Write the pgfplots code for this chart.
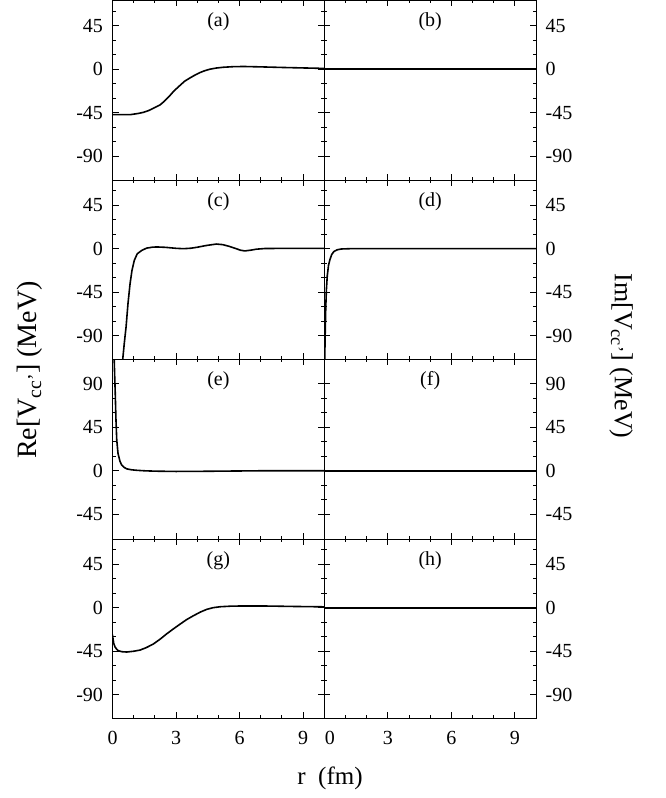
\documentclass[border=0pt]{standalone}
\usepackage{pgfplots}
\pgfplotsset{compat=1.18}
\usepackage{fontspec}
\setmainfont{Liberation Serif}

\pgfplotsset{
  panel/.style={
    scale only axis, width=211.8pt, height=179.5pt, anchor=south west,
    xmin=0, xmax=10, xtick={0,3,6,9}, minor x tick num=2,
    ytick={-90,-45,0,45,90}, minor y tick num=2,
    tick align=inside, xtick pos=both, ytick pos=both,
    major tick length=6pt, minor tick length=3pt,
    axis line style={line width=0.9pt, black},
    every tick/.style={line width=0.9pt, black},
    tick label style={font=\fontsize{20}{24}\selectfont},
    /pgf/number format/assume math mode=true,
    xticklabel style={yshift=-9pt},
    xticklabels=\empty,
    clip=true,
  },
  leftcol/.style={yticklabel pos=left, yticklabel style={xshift=-6pt}},
  rightcol/.style={yticklabel pos=right, yticklabel style={xshift=6pt}},
  lowrange/.style={ymin=-114.5, ymax=71},
  highrange/.style={ymin=-70.5, ymax=115},
  curve/.style={black, line width=1.6pt, no marks},
}
\tikzset{tag/.style={font=\fontsize{20}{24}\selectfont}}

\begin{document}
\begin{tikzpicture}
\useasboundingbox (0,0) rectangle (665pt,798pt);

% row 1: (a) (b)
\begin{axis}[panel, leftcol, lowrange, at={(112.5pt,618pt)}]
\addplot[curve] coordinates {
(0,-47) (0.4,-47) (0.83,-47) (1.2,-45.8) (1.46,-44.6) (1.7,-42.8)
(1.93,-40.4) (2.1,-38.5) (2.24,-37) (2.4,-34) (2.56,-30.5) (2.72,-27)
(2.9,-22.5) (3.05,-19.5) (3.19,-16.7) (3.4,-12.5) (3.66,-9) (3.9,-6)
(4.13,-3.5) (4.35,-1.6) (4.6,0) (4.9,1.2) (5.23,2) (5.7,2.6) (6.18,2.8)
(7,2.4) (8,1.8) (9,1.3) (10,0.8)};
\node[tag] at (rel axis cs:0.5,0.88) {(a)};
\end{axis}
\begin{axis}[panel, rightcol, lowrange, at={(324.3pt,618pt)}]
\addplot[curve] coordinates {(0,0) (10,0)};
\node[tag] at (rel axis cs:0.5,0.88) {(b)};
\end{axis}

% row 2: (c) (d)
\begin{axis}[panel, leftcol, lowrange, at={(112.5pt,438.5pt)}]
\addplot[curve] coordinates {
(0.48,-115) (0.56,-97) (0.64,-81) (0.73,-57) (0.83,-36) (0.92,-22.4)
(1.03,-12) (1.17,-5.2) (1.38,-1.8) (1.61,0.6) (1.9,1.6) (2.1,1.8)
(2.5,1.4) (3.0,0.4) (3.35,0) (3.7,0.5) (4.0,1.5) (4.4,3.2) (4.9,4.8)
(5.2,4.2) (5.5,2.5) (5.8,0.3) (6.05,-1.6) (6.25,-2.3) (6.5,-1.6)
(6.8,-0.5) (7.2,0.2) (8,0.3) (10,0.3)};
\node[tag] at (rel axis cs:0.5,0.88) {(c)};
\end{axis}
\begin{axis}[panel, rightcol, lowrange, at={(324.3pt,438.5pt)}]
\addplot[curve] coordinates {
(0.02,-115) (0.04,-90) (0.07,-60) (0.1,-42) (0.14,-28) (0.2,-17)
(0.27,-11) (0.35,-6) (0.45,-3) (0.6,-1.2) (0.8,-0.3) (1.2,0) (10,0)};
\node[tag] at (rel axis cs:0.5,0.88) {(d)};
\end{axis}

% row 3: (e) (f)
\begin{axis}[panel, leftcol, highrange, ytick={-45,0,45,90}, at={(112.5pt,259pt)}]
\addplot[curve] coordinates {
(0.08,115) (0.1,100) (0.13,80) (0.16,55) (0.2,32) (0.26,18) (0.35,10)
(0.43,6) (0.55,3.5) (0.67,2) (0.9,1) (1.14,0.5) (1.5,0) (2,-0.4)
(3,-0.7) (4,-0.6) (5,-0.4) (6,-0.2) (7,0) (10,0)};
\node[tag] at (rel axis cs:0.5,0.88) {(e)};
\end{axis}
\begin{axis}[panel, rightcol, highrange, ytick={-45,0,45,90}, at={(324.3pt,259pt)}]
\addplot[curve] coordinates {(0,0) (10,0)};
\node[tag] at (rel axis cs:0.5,0.88) {(f)};
\end{axis}

% row 4: (g) (h)
\begin{axis}[panel, leftcol, lowrange, at={(112.5pt,79.5pt)},
  xticklabels={0,3,6,9}]
\addplot[curve] coordinates {
(0.0,-28) (0.03,-33) (0.06,-37) (0.12,-40.5) (0.2,-43) (0.28,-44.5)
(0.45,-45.5) (0.67,-45.8) (1.0,-45) (1.3,-43.8) (1.6,-41.2) (1.93,-37.5)
(2.25,-32.5) (2.56,-27) (2.9,-21.5) (3.19,-17) (3.5,-12.3) (3.82,-8.3)
(4.15,-4.5) (4.45,-1.7) (4.75,0) (5.08,1) (5.6,1.6) (6.2,1.8) (7.4,1.7)
(8.5,1.3) (10,0.9)};
\node[tag] at (rel axis cs:0.5,0.88) {(g)};
\end{axis}
\begin{axis}[panel, rightcol, lowrange, at={(324.3pt,79.5pt)},
  xticklabels={\hspace{11pt}0,3,6,9}]
\addplot[curve] coordinates {(0,0) (10,0)};
\node[tag] at (rel axis cs:0.5,0.88) {(h)};
\end{axis}

\node[rotate=90, font=\fontsize{28}{32}\selectfont] at (30pt,428pt)
  {Re[V\textsubscript{cc'}] (MeV)};
\node[rotate=-90, font=\fontsize{26}{30}\selectfont] at (621pt,442pt)
  {Im[V\textsubscript{cc'}] (MeV)};
\node[font=\fontsize{25}{30}\selectfont] at (330pt,20pt) {r\ \ (fm)};
\end{tikzpicture}
\end{document}
